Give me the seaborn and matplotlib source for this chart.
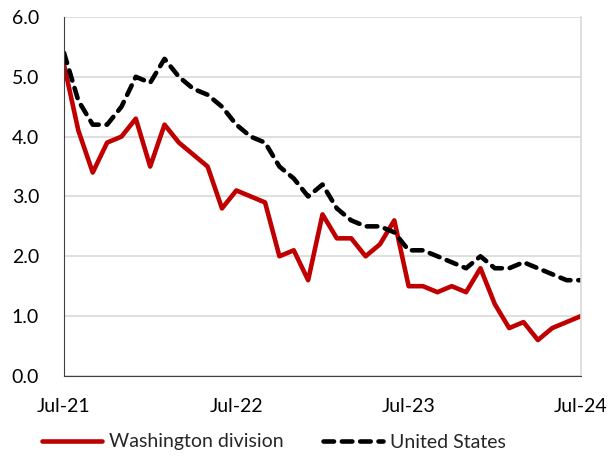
import pandas as pd
import matplotlib
matplotlib.use("Agg")
import matplotlib.pyplot as plt
import seaborn as sns

# monthly, Jul-21 .. Jul-24
months = pd.date_range("2021-07-01", "2024-07-01", freq="MS")
washington = [5.2, 4.1, 3.4, 3.9, 4.0, 4.3, 3.5, 4.2, 3.9, 3.7, 3.5, 2.8,
              3.1, 3.0, 2.9, 2.0, 2.1, 1.6, 2.7, 2.3, 2.3, 2.0, 2.2, 2.6,
              1.5, 1.5, 1.4, 1.5, 1.4, 1.8, 1.2, 0.8, 0.9, 0.6, 0.8, 0.9, 1.0]
united_states = [5.4, 4.6, 4.2, 4.2, 4.5, 5.0, 4.9, 5.3, 5.0, 4.8, 4.7, 4.5,
                 4.2, 4.0, 3.9, 3.5, 3.3, 3.0, 3.2, 2.8, 2.6, 2.5, 2.5, 2.4,
                 2.1, 2.1, 2.0, 1.9, 1.8, 2.0, 1.8, 1.8, 1.9, 1.8, 1.7, 1.6, 1.6]
tick_labels = ["Jul-21", "Jul-22", "Jul-23", "Jul-24"]

df = pd.DataFrame({"idx": range(len(months)),
                   "Washington division": washington,
                   "United States": united_states})

sns.set_style("white")
plt.rcParams["font.family"] = ["Lato", "DejaVu Sans"]

fig = plt.figure(figsize=(6.12, 4.59), dpi=100)
ax = fig.add_axes([0.1046, 0.181, 0.8447, 0.782])

sns.lineplot(data=df, x="idx", y="Washington division", ax=ax,
             color="#c00000", lw=3.3, label="Washington division")
sns.lineplot(data=df, x="idx", y="United States", ax=ax,
             color="black", lw=3.3, label="United States")
ax.lines[1].set_dashes([2.3, 1.7])
ax.lines[1].set_dash_capstyle("round")

ax.set_xlim(0, 36)
ax.set_ylim(0, 6)
ax.set_xticks([0, 12, 24, 36])
ax.set_xticklabels(tick_labels)
ax.set_yticks([0, 1, 2, 3, 4, 5, 6])
ax.set_yticklabels([f"{v:.1f}" for v in range(7)])
ax.set_xlabel("")
ax.set_ylabel("")

ax.yaxis.grid(True, color="#d9d9d9", lw=1.2)
ax.set_axisbelow(True)
ax.spines["top"].set_visible(False)
ax.spines["right"].set_color("#d9d9d9")
ax.spines["right"].set_linewidth(1.2)
ax.spines["left"].set_color("#404040")
ax.spines["bottom"].set_color("#404040")
ax.tick_params(axis="x", direction="inout", length=14, width=1,
               color="#404040", labelsize=14, pad=9, labelcolor="black")
ax.tick_params(axis="y", length=0, labelsize=14, pad=18, labelcolor="black")

ax.get_legend().remove()
handles, labels = ax.get_legend_handles_labels()
fig.legend(handles, labels, loc="center left",
           bbox_to_anchor=(42 / 612, 1 - 442 / 459),
           ncol=2, frameon=False, fontsize=14, handlelength=3.1,
           columnspacing=2.0, handletextpad=0.35, borderpad=0,
           borderaxespad=0)

fig.savefig("out.png", dpi=100)
